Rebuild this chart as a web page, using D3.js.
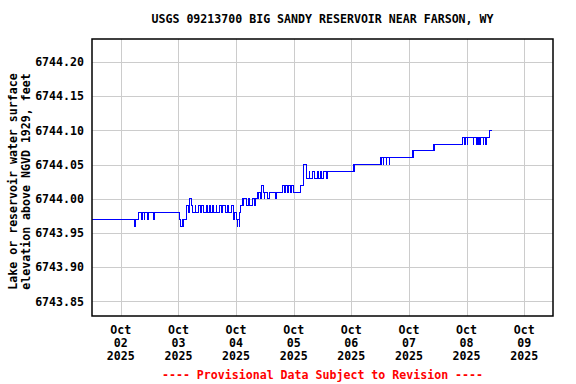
<!DOCTYPE html>
<html>
<head>
<meta charset="utf-8">
<script src="https://cdn.jsdelivr.net/npm/d3@7"></script>
<style>
  html, body { margin: 0; padding: 0; background: #fff; }
  svg { display: block; }
  text { font-family: "DejaVu Sans Mono", "Liberation Mono", monospace; font-weight: bold; }
</style>
</head>
<body>
<svg id="chart" width="576" height="384"></svg>
<script>
// ---- Data ----
const title = "USGS 09213700 BIG SANDY RESERVOIR NEAR FARSON, WY";
const yLabelLines = ["Lake or reservoir water surface", "elevation above NGVD 1929, feet"];
const footer = "---- Provisional Data Subject to Revision ----";

const yTicks = [6743.85, 6743.90, 6743.95, 6744.00, 6744.05, 6744.10, 6744.15, 6744.20];
const xTickDates = ["2025-10-02", "2025-10-03", "2025-10-04", "2025-10-05", "2025-10-06", "2025-10-07", "2025-10-08", "2025-10-09"];
const xTickMonth = ["Oct", "Oct", "Oct", "Oct", "Oct", "Oct", "Oct", "Oct"];
const xTickDay = ["02", "03", "04", "05", "06", "07", "08", "09"];
const xTickYear = ["2025", "2025", "2025", "2025", "2025", "2025", "2025", "2025"];

const xDomain = ["2025-10-01 12:00", "2025-10-09 12:00"];
const yDomain = [6743.8288, 6744.2337];

// Gage height readings (step changes), time and elevation in feet
const times = [
  "2025-10-01 12:00","2025-10-02 05:30","2025-10-02 06:00","2025-10-02 07:30","2025-10-02 08:30",
  "2025-10-02 09:00","2025-10-02 09:45","2025-10-02 10:00","2025-10-02 11:00","2025-10-02 11:30",
  "2025-10-02 13:30","2025-10-02 14:00","2025-10-03 00:15","2025-10-03 01:00","2025-10-03 01:30",
  "2025-10-03 02:00","2025-10-03 02:15","2025-10-03 03:15","2025-10-03 03:30","2025-10-03 04:00",
  "2025-10-03 04:30","2025-10-03 04:45","2025-10-03 05:15","2025-10-03 06:00","2025-10-03 07:00",
  "2025-10-03 07:15","2025-10-03 08:30","2025-10-03 09:00","2025-10-03 09:45","2025-10-03 10:15",
  "2025-10-03 11:30","2025-10-03 12:00","2025-10-03 12:45","2025-10-03 13:15","2025-10-03 14:00",
  "2025-10-03 14:45","2025-10-03 15:45","2025-10-03 16:00","2025-10-03 17:00","2025-10-03 17:45",
  "2025-10-03 18:30","2025-10-03 19:30","2025-10-03 20:15","2025-10-03 21:00","2025-10-03 22:00",
  "2025-10-03 22:45","2025-10-03 23:00","2025-10-03 23:30","2025-10-04 00:00","2025-10-04 00:30",
  "2025-10-04 00:45","2025-10-04 01:15","2025-10-04 01:30","2025-10-04 02:00","2025-10-04 02:30",
  "2025-10-04 03:00","2025-10-04 03:15","2025-10-04 04:15","2025-10-04 05:00","2025-10-04 05:30",
  "2025-10-04 07:00","2025-10-04 07:30","2025-10-04 08:15","2025-10-04 08:45","2025-10-04 09:15",
  "2025-10-04 09:30","2025-10-04 10:00","2025-10-04 10:30","2025-10-04 10:45","2025-10-04 11:15",
  "2025-10-04 11:45","2025-10-04 12:00","2025-10-04 13:15","2025-10-04 13:45","2025-10-04 16:15",
  "2025-10-04 16:45","2025-10-04 19:30","2025-10-04 20:00","2025-10-04 20:30","2025-10-04 21:15",
  "2025-10-04 21:45","2025-10-04 22:30","2025-10-04 23:00","2025-10-04 23:45","2025-10-05 03:00",
  "2025-10-05 04:15","2025-10-05 05:15","2025-10-05 05:30","2025-10-05 06:30","2025-10-05 06:45",
  "2025-10-05 08:00","2025-10-05 08:30","2025-10-05 09:45","2025-10-05 10:15","2025-10-05 11:00",
  "2025-10-05 11:30","2025-10-05 12:15","2025-10-05 13:30","2025-10-05 14:00","2025-10-06 00:45",
  "2025-10-06 01:15","2025-10-06 01:30","2025-10-06 12:00","2025-10-06 12:15","2025-10-06 12:45",
  "2025-10-06 13:15","2025-10-06 13:30","2025-10-06 14:30","2025-10-06 14:45","2025-10-06 15:45",
  "2025-10-06 16:00","2025-10-07 01:30","2025-10-07 01:45","2025-10-07 02:00","2025-10-07 10:15",
  "2025-10-07 10:30","2025-10-07 10:45","2025-10-07 22:30","2025-10-07 23:15","2025-10-07 23:30",
  "2025-10-08 00:15","2025-10-08 00:30","2025-10-08 02:45","2025-10-08 03:00","2025-10-08 04:15",
  "2025-10-08 04:30","2025-10-08 04:45","2025-10-08 05:00","2025-10-08 05:15","2025-10-08 05:30",
  "2025-10-08 05:45","2025-10-08 06:00","2025-10-08 07:00","2025-10-08 07:15","2025-10-08 08:00",
  "2025-10-08 08:15","2025-10-08 09:45","2025-10-08 10:45"
];
const values = [
  6743.97,6743.96,6743.97,6743.98,6743.97,
  6743.98,6743.97,6743.98,6743.97,6743.98,
  6743.97,6743.98,6743.97,6743.96,6743.97,
  6743.96,6743.97,6743.98,6743.99,6743.98,
  6743.99,6744.00,6743.99,6743.98,6743.99,
  6743.98,6743.99,6743.98,6743.99,6743.98,
  6743.99,6743.98,6743.99,6743.98,6743.99,
  6743.98,6743.99,6743.98,6743.99,6743.98,
  6743.99,6743.98,6743.99,6743.98,6743.99,
  6743.98,6743.97,6743.98,6743.97,6743.96,
  6743.97,6743.96,6743.98,6743.99,6744.00,
  6743.99,6744.00,6743.99,6744.00,6743.99,
  6744.00,6743.99,6744.00,6744.01,6744.00,
  6744.01,6744.00,6744.01,6744.02,6744.01,
  6744.00,6744.01,6744.00,6744.01,6744.00,
  6744.01,6744.02,6744.01,6744.02,6744.01,
  6744.02,6744.01,6744.02,6744.01,6744.02,
  6744.05,6744.04,6744.03,6744.04,6744.03,
  6744.04,6744.03,6744.04,6744.03,6744.04,
  6744.03,6744.04,6744.03,6744.04,6744.05,
  6744.04,6744.05,6744.06,6744.05,6744.06,
  6744.05,6744.06,6744.05,6744.06,6744.05,
  6744.06,6744.07,6744.06,6744.07,6744.08,
  6744.07,6744.08,6744.09,6744.08,6744.09,
  6744.08,6744.09,6744.08,6744.09,6744.08,
  6744.09,6744.08,6744.09,6744.08,6744.09,
  6744.08,6744.09,6744.08,6744.09,6744.08,
  6744.09,6744.10,6744.10
];

// ---- Layout ----
const svg = d3.select("#chart");
const plot = { left: 92, right: 553, top: 39, bottom: 316 };
const parseT = d3.timeParse("%Y-%m-%d %H:%M");
const parseD = d3.timeParse("%Y-%m-%d");

const x = d3.scaleTime().domain(xDomain.map(parseT)).range([plot.left, plot.right]);
const y = d3.scaleLinear().domain(yDomain).range([plot.bottom, plot.top]);

const series = times.map((t, i) => ({ t: parseT(t), v: values[i] }));

// Gridlines
const gy = svg.append("g").attr("transform", `translate(${plot.left},0)`)
  .call(d3.axisLeft(y).tickValues(yTicks).tickSize(-(plot.right - plot.left)).tickFormat(""));
gy.select(".domain").remove();
gy.selectAll(".tick line").attr("stroke", "#cccccc").attr("stroke-width", 1).attr("shape-rendering", "crispEdges");

const gx = svg.append("g").attr("transform", `translate(0,${plot.bottom})`)
  .call(d3.axisBottom(x).tickValues(xTickDates.map(parseD)).tickSize(-(plot.bottom - plot.top)).tickFormat(""));
gx.select(".domain").remove();
gx.selectAll(".tick line").attr("stroke", "#cccccc").attr("stroke-width", 1).attr("shape-rendering", "crispEdges");

// Data line
const line = d3.line().x(d => x(d.t)).y(d => y(d.v)).curve(d3.curveStepAfter);
svg.append("path").datum(series)
  .attr("d", line).attr("fill", "none").attr("stroke", "#0000ff")
  .attr("stroke-width", 1).attr("shape-rendering", "crispEdges");

// Plot frame
svg.append("rect")
  .attr("x", plot.left).attr("y", plot.top)
  .attr("width", plot.right - plot.left).attr("height", plot.bottom - plot.top)
  .attr("fill", "none").attr("stroke", "#000").attr("stroke-width", 1.5);

// Y tick labels
const fmt = d3.format(".2f");
svg.append("g").selectAll("text").data(yTicks).join("text")
  .attr("x", 84).attr("y", d => y(d)).attr("dy", "0.35em")
  .attr("text-anchor", "end").attr("font-size", "11.6px").attr("fill", "#000")
  .text(d => fmt(d));

// X tick labels (3 lines)
const xl = svg.append("g").selectAll("text").data(xTickDates).join("text")
  .attr("text-anchor", "middle").attr("font-size", "11.6px").attr("fill", "#000");
xl.each(function(d, i) {
  const t = d3.select(this);
  const cx = x(parseD(d));
  [xTickMonth[i], xTickDay[i], xTickYear[i]].forEach((s, k) => {
    t.append("tspan").attr("x", cx).attr("y", 334 + k * 13).text(s);
  });
});

// Title
svg.append("text").attr("x", (plot.left + plot.right) / 2).attr("y", 23)
  .attr("text-anchor", "middle").attr("font-size", "11.6px").attr("fill", "#000")
  .text(title);

// Y axis label
const yl = svg.append("text").attr("transform", `translate(0,${(plot.top + plot.bottom) / 2 + 4}) rotate(-90)`)
  .attr("text-anchor", "middle").attr("font-size", "11.6px").attr("fill", "#000");
yLabelLines.forEach((s, k) => yl.append("tspan").attr("x", 0).attr("y", 17 + k * 13).text(s));

// Footer
svg.append("text").attr("x", (plot.left + plot.right) / 2).attr("y", 379)
  .attr("text-anchor", "middle").attr("font-size", "11.6px").attr("fill", "#ff0000")
  .text(footer);
</script>
</body>
</html>
